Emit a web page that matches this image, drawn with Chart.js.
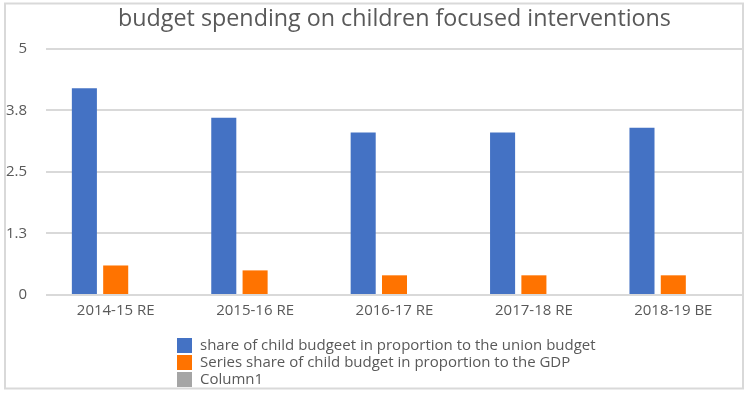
<!DOCTYPE html>
<html>
<head>
<meta charset="utf-8">
<script src="https://cdn.jsdelivr.net/npm/chart.js@4/dist/chart.umd.min.js"></script>
<style>
  html, body { margin: 0; padding: 0; background: #ffffff; }
  #wrap { width: 748px; height: 395px; position: relative; }
</style>
</head>
<body>
<div id="wrap"><canvas id="c" width="748" height="395"></canvas></div>
<script>
const categories = ["2014-15 RE", "2015-16 RE", "2016-17 RE", "2017-18 RE", "2018-19 BE"];
const unionBudgetShare = [4.2, 3.6, 3.3, 3.3, 3.4];
const gdpShare = [0.6, 0.5, 0.4, 0.4, 0.4];
const column1 = [null, null, null, null, null];
const seriesNames = [
  "share of child budgeet in proportion to the union budget",
  "Series share of child budget in proportion to the GDP",
  "Column1"
];
const seriesColors = ["#4472c4", "#ff7300", "#a5a5a5"];
const titleText = "budget spending on children focused interventions";

const FONT = "'Open Sans', Roboto, sans-serif";
const TEXT = "#595959";
const GRID = "#d9d9d9";

const borderPlugin = {
  id: "outerBorder",
  afterDraw(chart) {
    const ctx = chart.ctx;
    ctx.save();
    ctx.strokeStyle = GRID;
    ctx.lineWidth = 2;
    ctx.strokeRect(5, 3.5, 738, 385);
    ctx.restore();
  }
};

const legendPlugin = {
  id: "vertLegend",
  afterDraw(chart) {
    const ctx = chart.ctx;
    ctx.save();
    ctx.font = "15px " + FONT;
    ctx.textBaseline = "middle";
    ctx.textAlign = "left";
    chart.data.datasets.forEach((ds, i) => {
      const cy = 345.5 + i * 17;
      ctx.fillStyle = ds.backgroundColor;
      ctx.fillRect(177, cy - 7.5, 15, 15);
      ctx.fillStyle = TEXT;
      ctx.fillText(ds.label, 200, cy + 0.5);
    });
    ctx.restore();
  }
};

new Chart(document.getElementById("c"), {
  type: "bar",
  data: {
    labels: categories,
    datasets: [
      { label: seriesNames[0], data: unionBudgetShare, backgroundColor: seriesColors[0] },
      { label: seriesNames[1], data: gdpShare, backgroundColor: seriesColors[1] },
      { label: seriesNames[2], data: column1, backgroundColor: seriesColors[2] }
    ]
  },
  options: {
    responsive: false,
    animation: false,
    devicePixelRatio: 1,
    categoryPercentage: 0.674,
    barPercentage: 0.8,
    layout: { padding: { top: 0, left: 0, right: 5, bottom: 75 } },
    plugins: {
      legend: { display: false },
      tooltip: { enabled: false },
      title: {
        display: true,
        text: titleText,
        fullSize: false,
        color: TEXT,
        font: { family: FONT, size: 23.3, weight: "normal" },
        padding: { top: 5, bottom: 16 }
      }
    },
    scales: {
      x: {
        grid: { display: false, drawTicks: false },
        border: { display: false },
        ticks: { color: TEXT, font: { family: FONT, size: 15 }, padding: 7, maxRotation: 0 },
        afterFit(s) { s.height = 25; }
      },
      y: {
        min: 0,
        max: 5,
        ticks: {
          stepSize: 1.25,
          color: TEXT,
          font: { family: FONT, size: 15 },
          padding: 19,
          callback: (v) => (Number.isInteger(v) ? String(v) : v.toFixed(1))
        },
        grid: { color: GRID, lineWidth: 2, drawTicks: false },
        border: { display: false },
        afterFit(s) { s.width = 46; }
      }
    }
  },
  plugins: [borderPlugin, legendPlugin]
});
</script>
</body>
</html>
